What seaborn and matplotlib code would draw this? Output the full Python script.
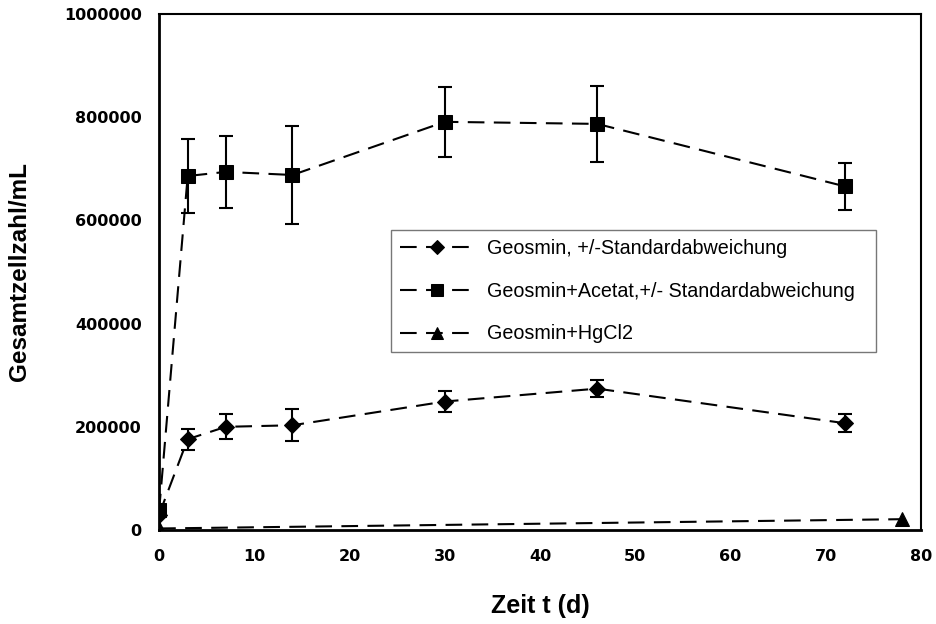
import matplotlib
matplotlib.use("Agg")
import matplotlib.pyplot as plt
import seaborn as sns
import pandas as pd
import numpy as np

# Data
t_geo = [0, 3, 7, 14, 30, 46, 72]
geo = [30000, 176000, 200000, 203000, 249000, 274000, 207000]
geo_sd = [5000, 20000, 24000, 31000, 21000, 17000, 17000]

t_ace = [0, 3, 7, 14, 30, 46, 72]
ace = [38000, 686000, 694000, 688000, 791000, 787000, 666000]
ace_sd = [8000, 71000, 70000, 95000, 68000, 73000, 46000]

t_hg = [0, 78]
hg = [3000, 21000]

labels = ["Geosmin, +/-Standardabweichung",
          "Geosmin+Acetat,+/- Standardabweichung",
          "Geosmin+HgCl2"]
x_ticks = [0, 10, 20, 30, 40, 50, 60, 70, 80]
y_ticks = [0, 200000, 400000, 600000, 800000, 1000000]

sns.set_theme(style="white")
plt.rcParams['font.family'] = ['Liberation Sans', 'DejaVu Sans']
plt.rcParams['text.color'] = 'black'

fig = plt.figure(figsize=(9.36, 6.24), dpi=100)
ax = fig.add_axes([0.170, 0.1506, 0.814, 0.827])

df = pd.concat([
    pd.DataFrame({"t": t_geo, "v": geo, "s": labels[0]}),
    pd.DataFrame({"t": t_ace, "v": ace, "s": labels[1]}),
    pd.DataFrame({"t": t_hg, "v": hg, "s": labels[2]}),
])

dash = (8, 4.5)
sns.lineplot(data=df, x="t", y="v", hue="s", style="s",
             palette=["black"] * 3,
             markers={labels[0]: "D", labels[1]: "s", labels[2]: "^"},
             dashes={labels[0]: dash, labels[1]: dash, labels[2]: dash},
             markersize=10, linewidth=1.5, markeredgecolor="black",
             ax=ax, legend=True, sort=False)

for line, ms in zip(ax.lines[:3], [8, 10.5, 10.5]):
    line.set_markersize(ms)

ax.errorbar(t_geo, geo, yerr=geo_sd, fmt="none", ecolor="black",
            elinewidth=1.5, capsize=5.2, capthick=1.5)
ax.errorbar(t_ace, ace, yerr=ace_sd, fmt="none", ecolor="black",
            elinewidth=1.5, capsize=5.2, capthick=1.5)

ax.set_xlim(0, 80)
ax.set_ylim(0, 1000000)
ax.set_xticks(x_ticks)
ax.set_yticks(y_ticks)
tick_font = dict(family="DejaVu Sans", fontsize=11.5, fontweight="bold", color="black")
ax.set_xticklabels([str(v) for v in x_ticks], **tick_font)
ax.set_yticklabels([str(v) for v in y_ticks], **tick_font)
ax.tick_params(axis="x", direction="inout", length=11.5, width=1.5, color="black", pad=8)
ax.tick_params(axis="y", direction="out", length=4.5, width=1.5, color="black", pad=8)

for s in ["left", "bottom"]:
    ax.spines[s].set_linewidth(2)
    ax.spines[s].set_color("black")
for s in ["top", "right"]:
    ax.spines[s].set_linewidth(1.5)
    ax.spines[s].set_color("black")

ax.set_xlabel("Zeit t (d)", fontsize=18, fontweight="bold", color="black")
ax.set_ylabel("Gesamtzellzahl/mL", fontsize=17.5, fontweight="bold", color="black")
ax.xaxis.set_label_coords(0.5, -0.124)
ax.yaxis.set_label_coords(-0.168, 0.5)

leg = ax.legend(loc="upper left", bbox_to_anchor=(0.3045, 0.35, 0.6365, 0.231),
                mode="expand",
                frameon=True, fancybox=False, fontsize=14.2,
                handlelength=3.8, borderpad=0.45, labelspacing=1.2,
                handletextpad=0.6, borderaxespad=0)
leg.get_frame().set_edgecolor("#555555")
leg.get_frame().set_linewidth(1.0)
for t in leg.get_texts():
    t.set_color("black")
for h, ms in zip(leg.legend_handles, [7, 8, 8.5]):
    h.set_markersize(ms)

fig.savefig("out.png", dpi=100)
